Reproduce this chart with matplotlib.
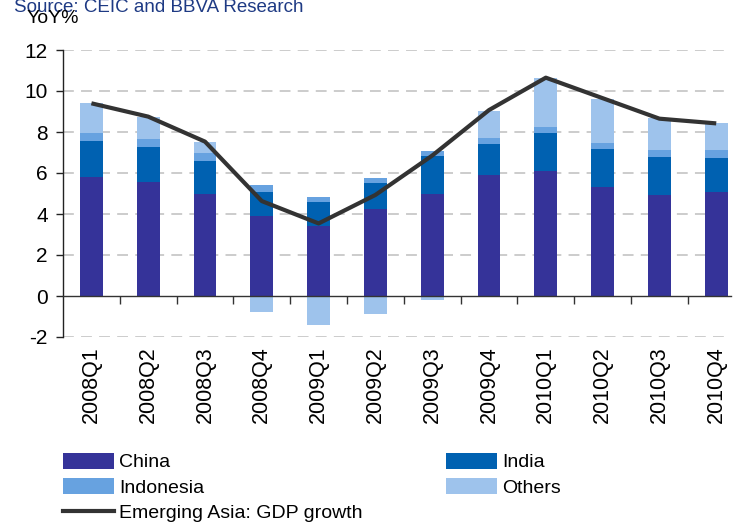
import matplotlib
matplotlib.use("Agg")
import matplotlib.pyplot as plt
from matplotlib.patches import Patch
from matplotlib.lines import Line2D
from matplotlib import font_manager
import numpy as np

quarters = ["2008Q1", "2008Q2", "2008Q3", "2008Q4", "2009Q1", "2009Q2",
            "2009Q3", "2009Q4", "2010Q1", "2010Q2", "2010Q3", "2010Q4"]
china = [5.80, 5.56, 4.99, 3.90, 3.41, 4.24, 4.98, 5.90, 6.10, 5.32, 4.93, 5.07]
india = [1.76, 1.71, 1.59, 1.17, 1.18, 1.27, 1.85, 1.51, 1.85, 1.85, 1.85, 1.66]
indonesia = [0.39, 0.39, 0.39, 0.33, 0.24, 0.25, 0.24, 0.30, 0.29, 0.29, 0.34, 0.39]
others = [1.46, 1.06, 0.54, -0.76, -1.41, -0.88, -0.18, 1.31, 2.39, 2.15, 1.56, 1.32]
gdp = [9.40, 8.75, 7.53, 4.63, 3.54, 4.93, 6.85, 9.07, 10.65, 9.65, 8.65, 8.42]
yticks = [-2, 0, 2, 4, 6, 8, 10, 12]

names = {f.name for f in font_manager.fontManager.ttflist}
narrow = ["Liberation Sans Narrow", "Liberation Sans", "DejaVu Sans"]
regular = ["Liberation Sans", "DejaVu Sans"]
plt.rcParams['font.family'] = narrow if "Liberation Sans Narrow" in names else regular

c_china = "#353399"
c_india = "#0061B1"
c_indo = "#67A2E0"
c_oth = "#9EC3EC"
c_line = "#333333"

W, H = 736, 523
fig = plt.figure(figsize=(W / 100, H / 100), dpi=100)
ax = fig.add_axes([63 / W, (H - 337) / H, (731 - 63) / W, (337 - 50) / H])

x = np.arange(len(quarters))
ch = np.array(china)
ind = np.array(india)
ido = np.array(indonesia)
oth = np.array(others)
bw = 0.40
ax.bar(x, ch, bw, color=c_china, zorder=2)
ax.bar(x, ind, bw, bottom=ch, color=c_india, zorder=2)
ax.bar(x, ido, bw, bottom=ch + ind, color=c_indo, zorder=2)
oth_bottom = np.where(oth >= 0, ch + ind + ido, 0)
ax.bar(x, oth, bw, bottom=oth_bottom, color=c_oth, zorder=2)
ax.plot(x, gdp, color=c_line, lw=3.0, zorder=4, solid_capstyle='butt', solid_joinstyle='round')

ax.set_xlim(-0.5, 11.26)
ax.set_ylim(-2, 12)
ax.set_yticks(yticks)
ax.set_yticklabels([str(v) for v in yticks], fontsize=15)
ax.tick_params(axis='y', direction='out', length=5, width=1, color='#222222', pad=6)
for v in yticks:
    if v != 0:
        ax.axhline(v, color='#C8C8C8', lw=1.3, ls=(0, (6, 4)), zorder=1)

for s in ['top', 'right']:
    ax.spines[s].set_visible(False)
ax.spines['left'].set_color('#222222')
ax.spines['left'].set_linewidth(1.0)
ax.spines['bottom'].set_position(('data', 0))
ax.spines['bottom'].set_color('#333333')
ax.spines['bottom'].set_linewidth(1.0)
ax.spines['bottom'].set_zorder(3)

ax.set_xticks(x)
ax.set_xticklabels(quarters, rotation=90, fontsize=15.5, family=regular, va='top', ha='center')
ax.set_xticks(x[:-1] + 0.5, minor=True)
ax.tick_params(axis='x', which='major', length=0, pad=36)
ax.tick_params(axis='x', which='minor', direction='out', length=6, width=1, color='#333333')

fig.text(14 / W, 1 - 12 / H, "Source: CEIC and BBVA Research", color="#1E3A84",
         fontsize=13.5, ha='left', va='baseline')
fig.text(27 / W, 1 - 23 / H, "YoY%", color="black", fontsize=14, ha='left', va='baseline')

h_china = Patch(facecolor=c_china)
h_india = Patch(facecolor=c_india)
h_indo = Patch(facecolor=c_indo)
h_oth = Patch(facecolor=c_oth)
h_line = Line2D([], [], color=c_line, lw=3.0)
common = dict(loc='upper left', frameon=False, fontsize=14, borderpad=0, borderaxespad=0,
              handlelength=2.6, handleheight=0.85, handletextpad=0.3, labelspacing=0.35)
leg1 = fig.legend([h_china, h_indo, h_line], ["China", "Indonesia", "Emerging Asia: GDP growth"],
                  bbox_to_anchor=(63 / W, 1 - 453 / H), **common)
leg2 = fig.legend([h_india, h_oth], ["India", "Others"],
                  bbox_to_anchor=(446 / W, 1 - 453 / H), **common)

fig.savefig("out.png", dpi=100)
